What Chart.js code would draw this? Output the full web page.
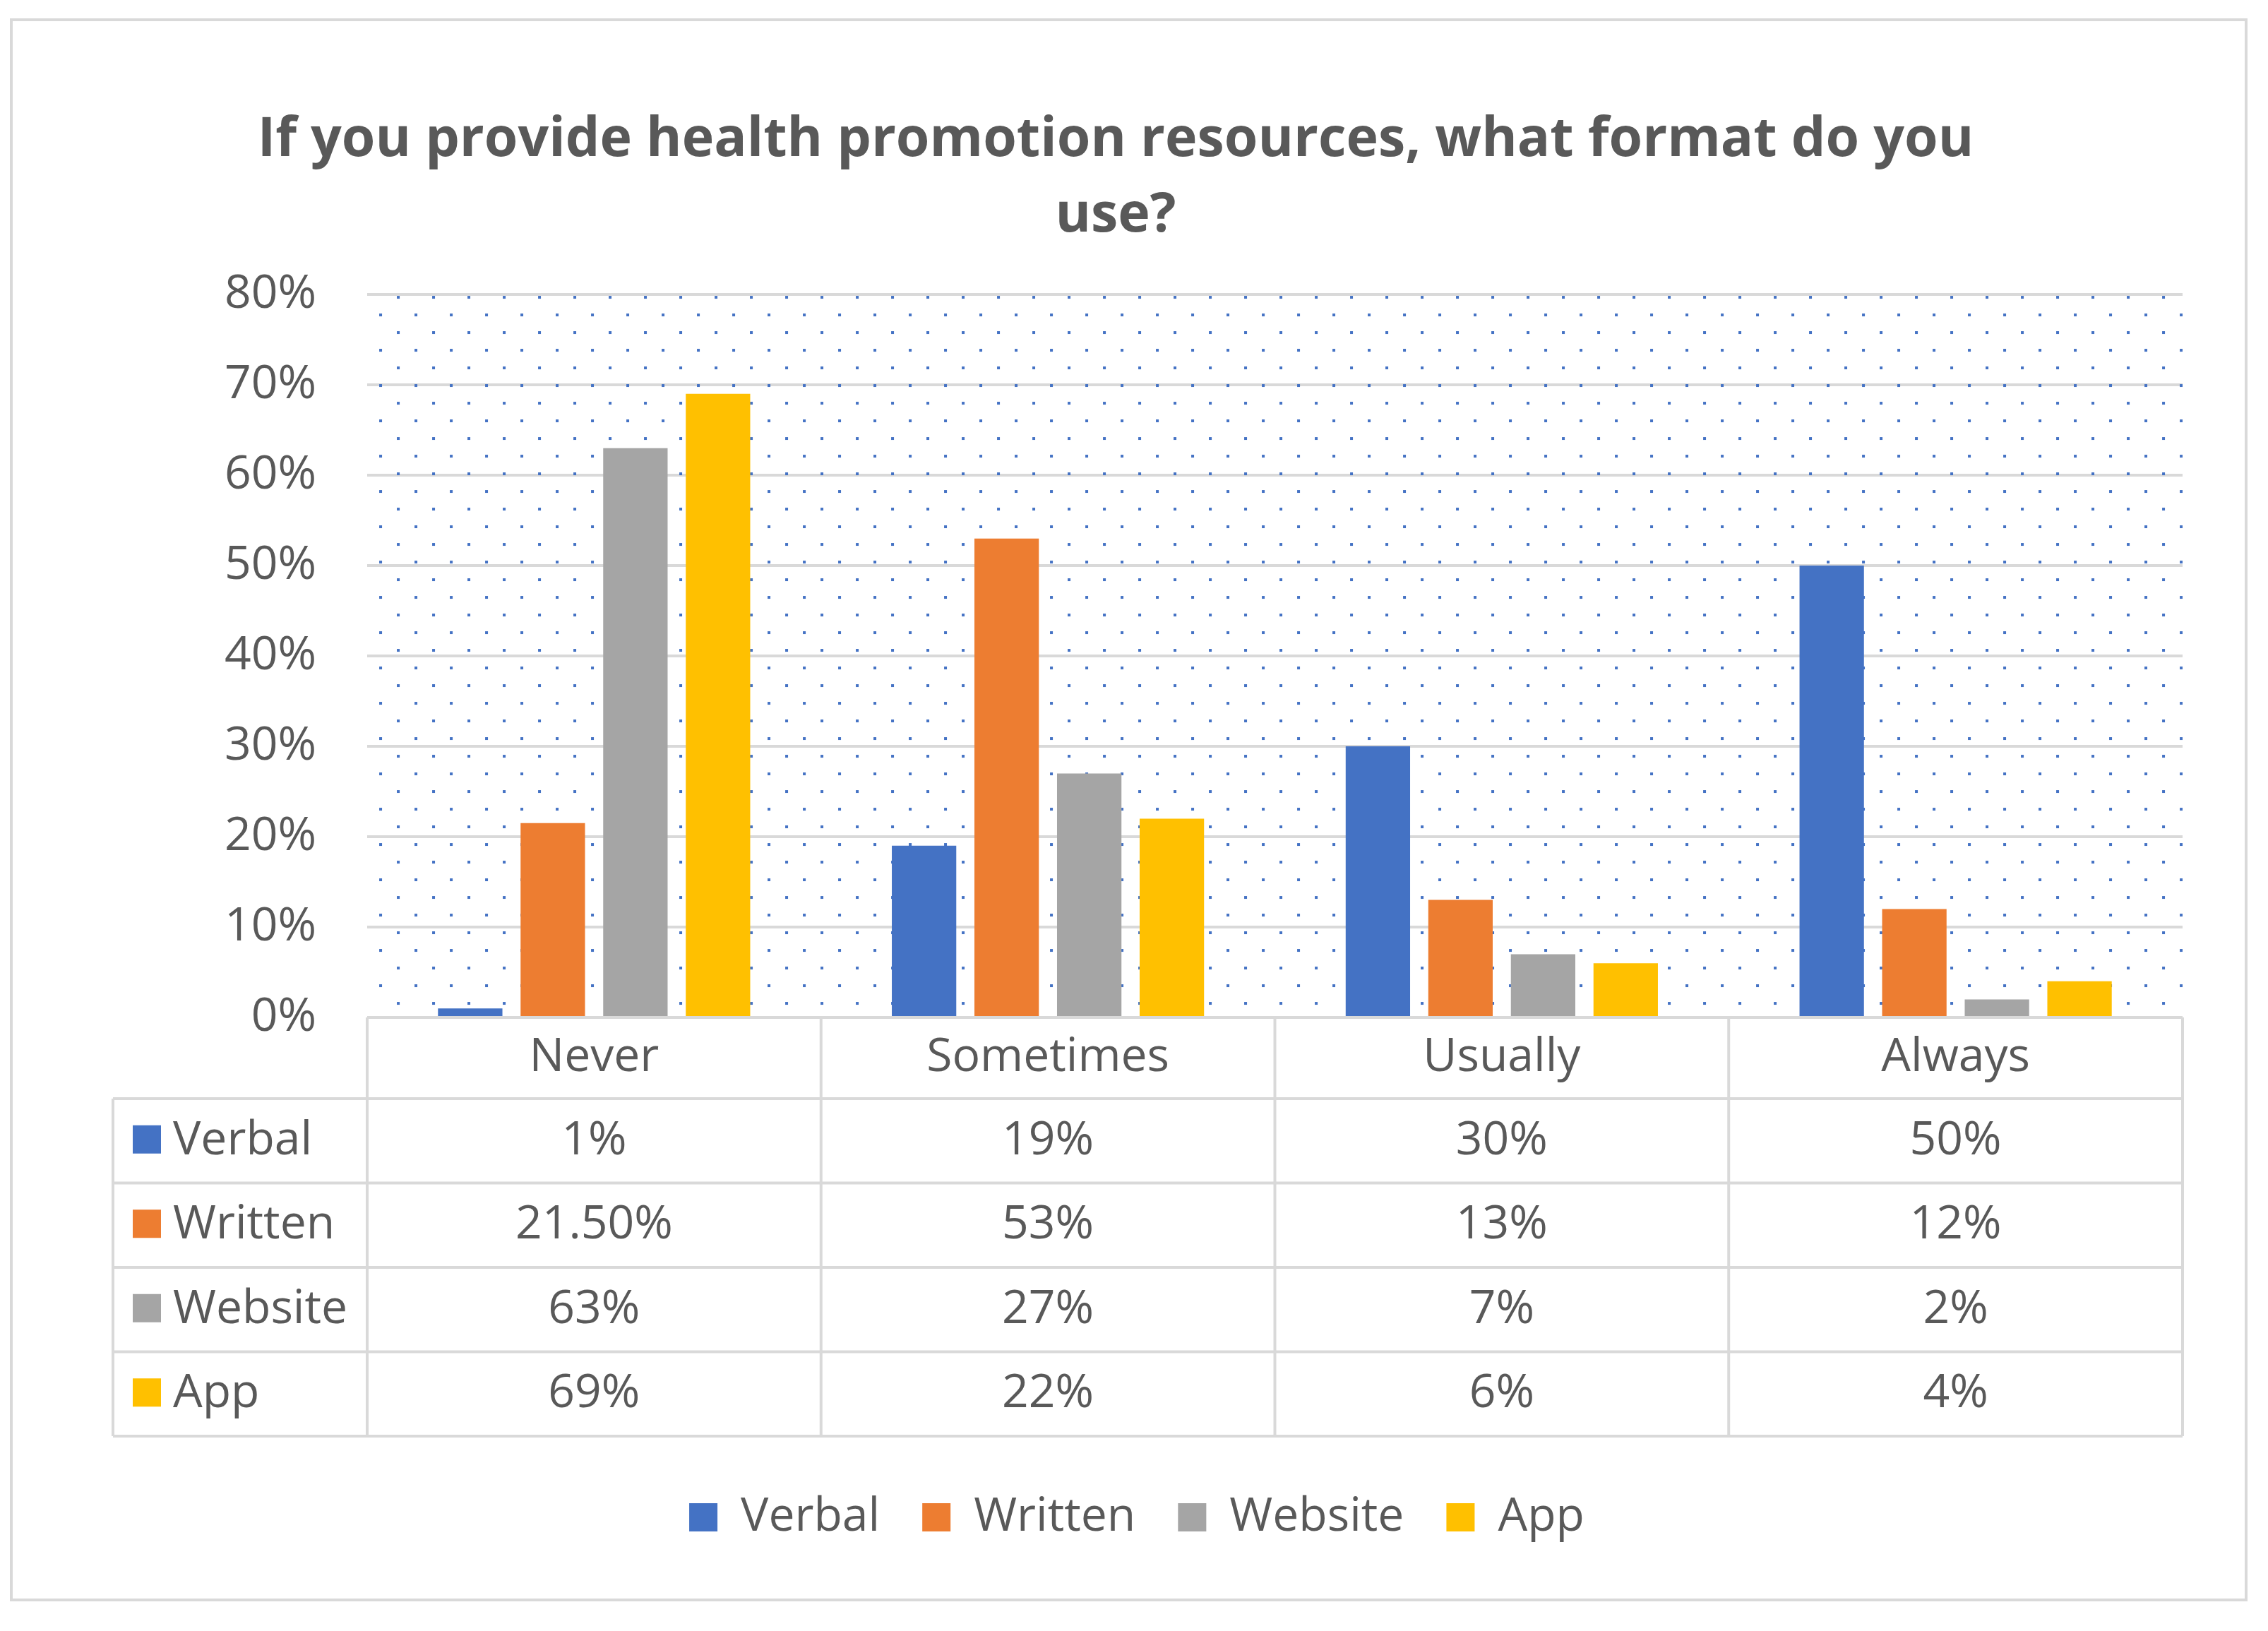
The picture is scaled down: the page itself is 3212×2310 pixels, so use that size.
<!DOCTYPE html>
<html><head><meta charset="utf-8">
<script src="https://cdn.jsdelivr.net/npm/chart.js@4.4.1/dist/chart.umd.min.js"></script>
<style>html,body{margin:0;padding:0;background:#fff;} #wrap{width:3212px;height:2310px;position:relative;}</style>
</head><body><div id="wrap"><canvas id="c" width="3212" height="2310"></canvas></div>
<script>
const categories = ['Never', 'Sometimes', 'Usually', 'Always'];
const seriesNames = ['Verbal', 'Written', 'Website', 'App'];
const verbal = [1, 19, 30, 50];
const written = [21.5, 53, 13, 12];
const website = [63, 27, 7, 2];
const app = [69, 22, 6, 4];
const verbalLabels = ['1%', '19%', '30%', '50%'];
const writtenLabels = ['21.50%', '53%', '13%', '12%'];
const websiteLabels = ['63%', '27%', '7%', '2%'];
const appLabels = ['69%', '22%', '6%', '4%'];
const yTicks = [0, 10, 20, 30, 40, 50, 60, 70, 80];
const titleLines = ['If you provide health promotion resources, what format do you', 'use?'];

const colors = ['#4472C4', '#ED7D31', '#A5A5A5', '#FFC000'];
const seriesValues = [verbal, written, website, app];
const tableLabels = [verbalLabels, writtenLabels, websiteLabels, appLabels];
const textColor = '#595959';
const lineColor = '#D9D9D9';
const FONT = '"Open Sans", "Noto Sans", sans-serif';

const dotsPlugin = {
  id: 'dots',
  beforeDatasetsDraw(chart) {
    const {ctx, chartArea: a} = chart;
    const pc = document.createElement('canvas');
    pc.width = 50; pc.height = 50;
    const p = pc.getContext('2d');
    p.fillStyle = '#4472C4';
    p.fillRect(42, 2, 4, 4);
    p.fillRect(17, 27, 4, 4);
    const pat = ctx.createPattern(pc, 'repeat');
    ctx.save();
    ctx.beginPath();
    ctx.rect(a.left, a.top, a.width, a.height);
    ctx.clip();
    ctx.translate(a.left, a.top);
    ctx.fillStyle = pat;
    ctx.fillRect(0, 0, a.width, a.height);
    ctx.restore();
  }
};

const tablePlugin = {
  id: 'dataTable',
  afterDraw(chart) {
    const {ctx, chartArea: a, scales: {x}} = chart;
    const band = x.getPixelForValue(1) - x.getPixelForValue(0);
    const top = a.bottom;
    const headerH = 115, rowH = 119.5, labelColW = 360;
    const nRows = chart.data.datasets.length;
    const bottom = top + headerH + rowH * nRows;
    const left0 = a.left - labelColW;
    ctx.save();
    ctx.strokeStyle = lineColor;
    ctx.lineWidth = 4;
    ctx.beginPath();
    ctx.moveTo(a.left, top); ctx.lineTo(a.right, top);
    for (let r = 0; r <= nRows; r++) {
      const y = top + headerH + rowH * r;
      ctx.moveTo(left0, y); ctx.lineTo(a.right, y);
    }
    ctx.moveTo(left0, top + headerH); ctx.lineTo(left0, bottom);
    for (let i = 0; i <= chart.data.labels.length; i++) {
      const xx = x.getPixelForValue(i) - band / 2;
      ctx.moveTo(xx, top); ctx.lineTo(xx, bottom);
    }
    ctx.stroke();

    ctx.font = '66px ' + FONT;
    ctx.fillStyle = textColor;
    ctx.textBaseline = 'middle';
    ctx.textAlign = 'center';
    chart.data.labels.forEach((lab, i) => {
      ctx.fillText(lab, x.getPixelForValue(i), top + headerH / 2);
    });
    chart.data.datasets.forEach((ds, r) => {
      const yc = top + headerH + rowH * r + rowH / 2;
      ctx.fillStyle = ds.backgroundColor;
      ctx.fillRect(left0 + 28, yc - 22, 40, 40);
      ctx.fillStyle = textColor;
      ctx.textAlign = 'left';
      ctx.fillText(ds.label, left0 + 85, yc);
      ctx.textAlign = 'center';
      tableLabels[r].forEach((t, i) => {
        ctx.fillText(t, x.getPixelForValue(i), yc);
      });
    });
    ctx.restore();
  }
};

const framePlugin = {
  id: 'frame',
  afterDraw(chart) {
    const ctx = chart.ctx;
    ctx.save();
    ctx.strokeStyle = lineColor;
    ctx.lineWidth = 4;
    ctx.strokeRect(16, 28, 3165, 2238);
    ctx.restore();
  }
};

const legendShift = {
  id: 'legendShift',
  afterLayout(chart) {
    if (chart.legend) { chart.legend.left += 30; chart.legend.right += 30; }
  }
};

new Chart(document.getElementById('c'), {
  type: 'bar',
  data: {
    labels: categories,
    datasets: seriesNames.map((n, i) => ({
      label: n,
      data: seriesValues[i],
      backgroundColor: colors[i],
      borderWidth: 0,
      categoryPercentage: 0.728,
      barPercentage: 0.78
    }))
  },
  options: {
    responsive: false,
    devicePixelRatio: 1,
    animation: false,
    events: [],
    layout: {padding: {left: 69, right: 121, top: 0, bottom: 118}},
    plugins: {
      title: {
        display: true,
        text: titleLines,
        color: textColor,
        font: {family: FONT, size: 77, weight: 'bold', lineHeight: 1.39},
        padding: {top: 146, bottom: 57}
      },
      legend: {
        position: 'bottom',
        labels: {
          color: textColor,
          font: {family: FONT, size: 66},
          boxWidth: 40,
          boxHeight: 40,
          padding: 60
        }
      },
      tooltip: {enabled: false}
    },
    scales: {
      x: {
        display: true,
        grid: {display: false},
        border: {display: false},
        ticks: {display: false},
        afterFit(s) { s.height = 615; }
      },
      y: {
        min: 0,
        max: 80,
        afterBuildTicks(s) { s.ticks = yTicks.map(v => ({value: v})); },
        grid: {color: lineColor, lineWidth: 4, drawTicks: false},
        border: {display: false},
        ticks: {
          color: textColor,
          font: {family: FONT, size: 66},
          padding: 72,
          callback: v => v + '%'
        },
        afterFit(s) { s.width = 451; }
      }
    }
  },
  plugins: [dotsPlugin, tablePlugin, framePlugin, legendShift]
});
</script>
</body></html>
